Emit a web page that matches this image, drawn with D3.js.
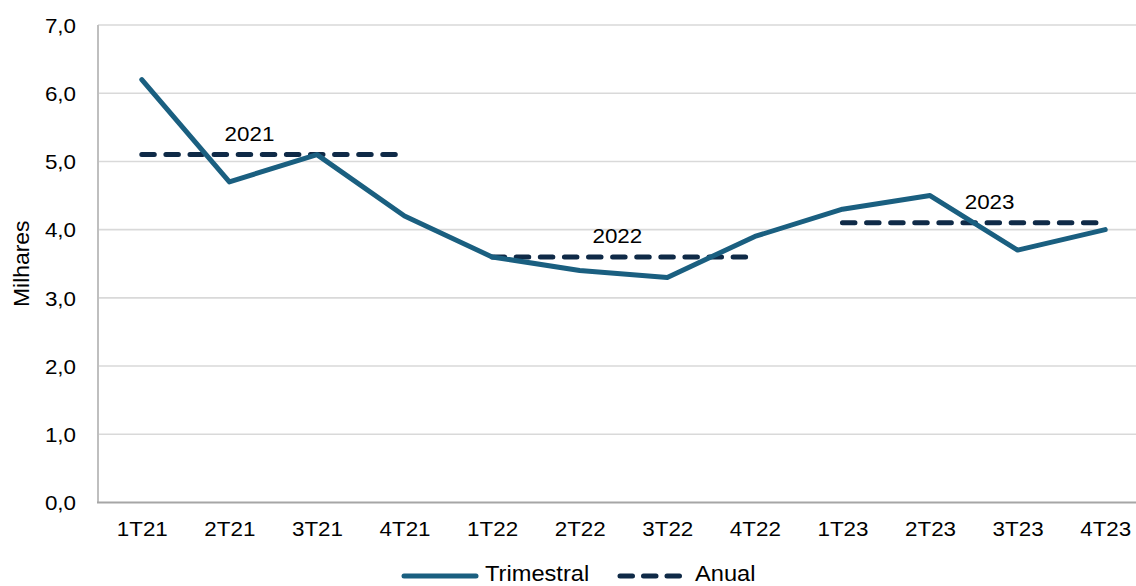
<!DOCTYPE html>
<html>
<head>
<meta charset="utf-8">
<script src="https://cdn.jsdelivr.net/npm/d3@7"></script>
<style>
  html, body { margin: 0; padding: 0; background: #fff; }
  svg { display: block; font-family: "Liberation Sans", Arial, sans-serif; }
</style>
</head>
<body>
<svg id="chart" width="1136" height="586"></svg>
<script>
// Quarterly values (thousands) and annual averages
const categories = ["1T21","2T21","3T21","4T21","1T22","2T22","3T22","4T22","1T23","2T23","3T23","4T23"];
const trimestral = [6.2, 4.7, 5.1, 4.2, 3.6, 3.4, 3.3, 3.9, 4.3, 4.5, 3.7, 4.0];
const anos = ["2021", "2022", "2023"];
const anual = [5.1, 3.6, 4.1];
// Fractional category index where each year label sits
const anoLabelPos = [1.23, 5.43, 9.68];
const yTicks = [0, 1, 2, 3, 4, 5, 6, 7];

const W = 1136, H = 586;
const plotLeft = 98, plotTop = 25, plotBottom = 502.5, plotRight = 1149;
const textStretch = 1.12;
const fontSize = 20;

const svg = d3.select("#chart");

const x = d3.scaleLinear().domain([-0.5, categories.length - 0.5]).range([plotLeft, plotRight]);
const y = d3.scaleLinear().domain([0, 7]).range([plotBottom, plotTop]);
const fmt = v => d3.format(".1f")(v).replace(".", ",");

// Horizontal gridlines
svg.append("g")
  .selectAll("line")
  .data(yTicks.filter(t => t > 0))
  .join("line")
  .attr("x1", plotLeft).attr("x2", W)
  .attr("y1", d => y(d)).attr("y2", d => y(d))
  .attr("stroke", "#d9d9d9").attr("stroke-width", 1.6);

// Y axis labels
const yAxis = svg.append("g")
  .attr("transform", `translate(${plotLeft},0)`)
  .call(d3.axisLeft(y).tickValues(yTicks).tickFormat(fmt).tickSize(0).tickPadding(0));
yAxis.select(".domain").remove();
yAxis.selectAll("text")
  .attr("x", -22 / textStretch)
  .attr("dy", "0.36em")
  .attr("font-size", fontSize)
  .attr("font-family", "Liberation Sans, Arial, sans-serif")
  .attr("fill", "#000")
  .attr("transform", `scale(${textStretch},1)`);

// Left axis line
svg.append("line")
  .attr("x1", plotLeft).attr("x2", plotLeft)
  .attr("y1", plotTop).attr("y2", plotBottom)
  .attr("stroke", "#bfbfbf").attr("stroke-width", 2);

// X axis
const xAxis = svg.append("g")
  .attr("transform", `translate(0,${plotBottom})`)
  .call(d3.axisBottom(x).tickValues(d3.range(categories.length))
    .tickFormat(i => categories[i]).tickSize(0).tickPadding(0));
xAxis.select(".domain").remove();
xAxis.selectAll("text")
  .attr("y", 34)
  .attr("dy", 0)
  .attr("font-size", fontSize)
  .attr("font-family", "Liberation Sans, Arial, sans-serif")
  .attr("fill", "#000")
  .attr("transform", `scale(${textStretch},1)`);

svg.append("line")
  .attr("x1", plotLeft - 1).attr("x2", W)
  .attr("y1", plotBottom).attr("y2", plotBottom)
  .attr("stroke", "#a6a6a6").attr("stroke-width", 2);

// Y axis title
svg.append("text")
  .attr("transform", `translate(28.5,${(plotTop + plotBottom) / 2}) rotate(-90) scale(1.04,1)`)
  .attr("text-anchor", "middle")
  .attr("font-size", 22)
  .attr("fill", "#000")
  .text("Milhares");

const lineColor = "#1a5f80";
const dashColor = "#0f2a47";
const dash = "12.5 11.6";

// Annual average segments spanning each year's quarters
anual.forEach((v, k) => {
  const idx = d3.range(k * 4, k * 4 + 4);
  svg.append("path")
    .datum(idx)
    .attr("d", d3.line().x(i => x(i)).y(() => y(v)))
    .attr("fill", "none")
    .attr("stroke", dashColor)
    .attr("stroke-width", 5)
    .attr("stroke-linecap", "round")
    .attr("stroke-dasharray", dash);
});

// Quarterly line
svg.append("path")
  .datum(trimestral)
  .attr("d", d3.line().x((d, i) => x(i)).y(d => y(d)))
  .attr("fill", "none")
  .attr("stroke", lineColor)
  .attr("stroke-width", 5)
  .attr("stroke-linejoin", "round")
  .attr("stroke-linecap", "round");

// Year labels above each annual segment
svg.append("g")
  .selectAll("text")
  .data(anos)
  .join("text")
  .attr("transform", (d, k) => `translate(${x(anoLabelPos[k])},${y(anual[k]) - 14}) scale(${textStretch},1)`)
  .attr("text-anchor", "middle")
  .attr("font-size", fontSize)
  .attr("fill", "#000")
  .text(d => d);

// Legend
const lg = svg.append("g");
lg.append("line")
  .attr("x1", 404).attr("x2", 476).attr("y1", 576).attr("y2", 576)
  .attr("stroke", lineColor).attr("stroke-width", 5).attr("stroke-linecap", "round");
lg.append("text")
  .attr("transform", `translate(485,581) scale(1.075,1)`)
  .attr("font-size", 22).attr("fill", "#000")
  .text("Trimestral");
lg.append("line")
  .attr("x1", 620).attr("x2", 682).attr("y1", 576).attr("y2", 576)
  .attr("stroke", dashColor).attr("stroke-width", 5).attr("stroke-linecap", "round")
  .attr("stroke-dasharray", "12.5 11");
lg.append("text")
  .attr("transform", `translate(695,581) scale(1.075,1)`)
  .attr("font-size", 22).attr("fill", "#000")
  .text("Anual");
</script>
</body>
</html>
